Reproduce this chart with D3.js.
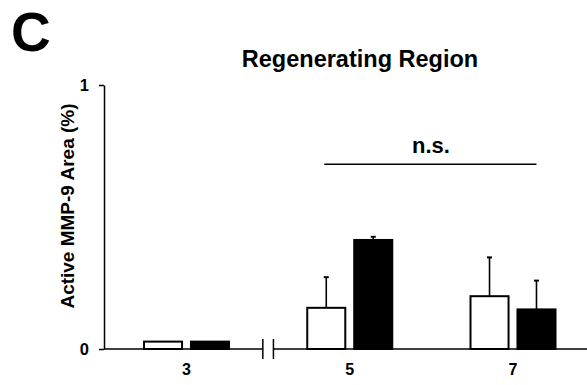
<!DOCTYPE html>
<html>
<head>
<meta charset="utf-8">
<script src="https://cdn.jsdelivr.net/npm/d3@7"></script>
<style>
  body { margin: 0; background: #fff; }
  text { font-family: "Liberation Sans", Arial, sans-serif; font-weight: bold; fill: #000; }
</style>
</head>
<body>
<div class="chart"></div>
<script>
// data
var days = ["3", "5", "7"];
var groups = ["open", "filled"];
var openMean = [0.028, 0.156, 0.200];
var openErr = [0, 0.116, 0.147];
var filledMean = [0.028, 0.413, 0.150];
var filledErr = [0, 0.012, 0.109];
var yTicks = [0, 1];
var nsLevel = 0.70;

var width = 587, height = 385;
var marginLeft = 104, marginTop = 85, baseY = 349;

var svg = d3.select(".chart")
  .append("svg")
  .attr("width", width)
  .attr("height", height);

var yScale = d3.scaleLinear()
  .domain([0, 1])
  .range([baseY, marginTop]);

var xScale = d3.scalePoint()
  .domain(days)
  .range([186.5, 513]);

var inner = d3.scaleBand()
  .domain(groups)
  .range([-42.5, 42.5])
  .paddingInner(0.19);

var bars = [];
days.forEach(function (d, i) {
  bars.push({ day: d, g: "open", v: openMean[i], e: openErr[i] });
  bars.push({ day: d, g: "filled", v: filledMean[i], e: filledErr[i] });
});

// panel letter + title
svg.append("text")
  .attr("x", 11).attr("y", 50.5)
  .style("font-size", "55px")
  .text("C");

svg.append("text")
  .attr("x", 360).attr("y", 66.5)
  .attr("text-anchor", "middle")
  .style("font-size", "23.5px")
  .text("Regenerating Region");

// y axis
var yAxis = d3.axisLeft(yScale)
  .tickValues(yTicks)
  .tickFormat(d3.format("d"))
  .tickSize(5)
  .tickSizeOuter(0)
  .tickPadding(10);

var yg = svg.append("g")
  .attr("transform", "translate(" + marginLeft + ",0)")
  .call(yAxis);
yg.attr("font-size", 16).attr("font-family", "'Liberation Sans', Arial, sans-serif");
yg.select(".domain").attr("stroke", "#000").attr("stroke-width", 1.5);
yg.selectAll(".tick line").attr("stroke", "#000").attr("stroke-width", 1.5);
yg.selectAll(".tick text")
  .style("font-size", "16.5px")
  .style("font-weight", "bold")
  .attr("fill", "#000");

svg.append("text")
  .attr("transform", "translate(74," + 206 + ") rotate(-90)")
  .attr("text-anchor", "middle")
  .style("font-size", "19px")
  .text("Active MMP-9 Area (%)");

// baseline with axis break between 3 and 5
var breakX = (xScale("3") + xScale("5")) / 2;
var gapHalf = 5.3;
svg.append("line")
  .attr("x1", marginLeft).attr("x2", breakX - gapHalf)
  .attr("y1", baseY).attr("y2", baseY)
  .attr("stroke", "#000").attr("stroke-width", 1.5);
svg.append("line")
  .attr("x1", breakX + gapHalf).attr("x2", width)
  .attr("y1", baseY).attr("y2", baseY)
  .attr("stroke", "#000").attr("stroke-width", 1.5);
[-gapHalf, gapHalf].forEach(function (o) {
  svg.append("line")
    .attr("x1", breakX + o).attr("x2", breakX + o)
    .attr("y1", baseY - 10).attr("y2", baseY + 10)
    .attr("stroke", "#000").attr("stroke-width", 1.5);
});

// x labels
svg.selectAll(".xlab")
  .data(days)
  .enter()
  .append("text")
  .attr("class", "xlab")
  .attr("x", function (d) { return xScale(d); })
  .attr("y", 375)
  .attr("text-anchor", "middle")
  .style("font-size", "16px")
  .text(function (d) { return d; });

// error bars (upper only)
var errG = svg.selectAll(".err")
  .data(bars.filter(function (d) { return d.e > 0; }))
  .enter()
  .append("g")
  .attr("class", "err");
errG.append("line")
  .attr("x1", function (d) { return xScale(d.day) + inner(d.g) + inner.bandwidth() / 2; })
  .attr("x2", function (d) { return xScale(d.day) + inner(d.g) + inner.bandwidth() / 2; })
  .attr("y1", function (d) { return yScale(d.v); })
  .attr("y2", function (d) { return yScale(d.v + d.e); })
  .attr("stroke", "#000").attr("stroke-width", 1.6);
errG.append("line")
  .attr("x1", function (d) { return xScale(d.day) + inner(d.g) + inner.bandwidth() / 2 - 2.5; })
  .attr("x2", function (d) { return xScale(d.day) + inner(d.g) + inner.bandwidth() / 2 + 2.5; })
  .attr("y1", function (d) { return yScale(d.v + d.e); })
  .attr("y2", function (d) { return yScale(d.v + d.e); })
  .attr("stroke", "#000").attr("stroke-width", 2);

// bars
svg.selectAll(".bar")
  .data(bars)
  .enter()
  .append("rect")
  .attr("class", "bar")
  .attr("x", function (d) { return xScale(d.day) + inner(d.g); })
  .attr("width", inner.bandwidth())
  .attr("y", function (d) { return yScale(d.v); })
  .attr("height", function (d) { return baseY - yScale(d.v); })
  .attr("fill", function (d) { return d.g == "open" ? "#fff" : "#000"; })
  .attr("stroke", "#000")
  .attr("stroke-width", 2);

// n.s. annotation spanning day 5 open to day 7 filled
var nsX1 = xScale("5") + inner("open") + inner.bandwidth() / 2 - 2;
var nsX2 = xScale("7") + inner("filled") + inner.bandwidth() / 2;
svg.append("line")
  .attr("x1", nsX1).attr("x2", nsX2)
  .attr("y1", yScale(nsLevel)).attr("y2", yScale(nsLevel))
  .attr("stroke", "#000").attr("stroke-width", 1.5);
svg.append("text")
  .attr("x", 431).attr("y", 153.3)
  .attr("text-anchor", "middle")
  .style("font-size", "22px")
  .text("n.s.");
</script>
</body>
</html>
